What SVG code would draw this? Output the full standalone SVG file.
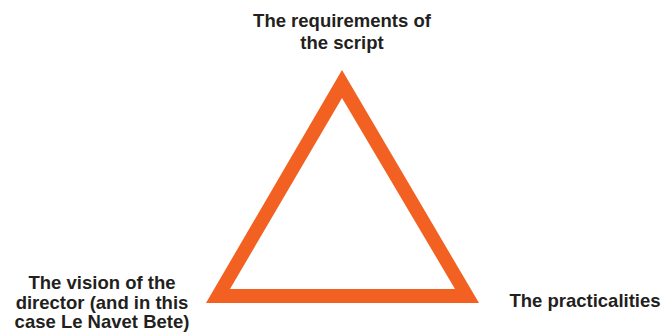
<svg xmlns="http://www.w3.org/2000/svg" width="663" height="332" viewBox="0 0 663 332">
<style>
.lbl{font-family:"Liberation Sans",Arial,sans-serif;font-weight:bold;font-size:18.5px;fill:#231f20;text-anchor:middle}
.tri{fill:#f26122;fill-rule:evenodd}
</style>
<rect width="663" height="332" fill="#fff"/>
<g id="triangle">
<path class="tri" d="M342,70 L479,303 L206,303 Z M342,98 L230,289 L455,289 Z"/>
</g>
<g id="connectors"></g>
<g id="node-script">
<text class="lbl" x="342" y="27">The requirements of</text>
<text class="lbl" x="342" y="49">the script</text>
</g>
<g id="node-director">
<text class="lbl" x="102" y="289">The vision of the</text>
<text class="lbl" x="102" y="309">director (and in this</text>
<text class="lbl" x="102" y="328">case Le Navet Bete)</text>
</g>
<g id="node-practicalities">
<text class="lbl" x="585" y="307">The practicalities</text>
</g>
</svg>
